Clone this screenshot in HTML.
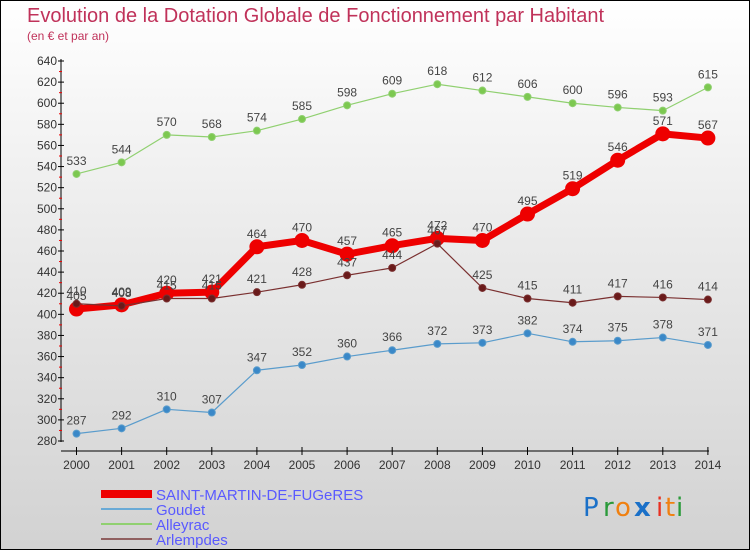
<!DOCTYPE html>
<html><head><meta charset="utf-8"><style>
body{margin:0;}
#c{position:relative;width:748px;height:548px;border:1px solid #000;background:linear-gradient(#fff 0%,#ececec 40%,#d2d2d2 100%);font-family:"Liberation Sans",sans-serif;overflow:hidden}
</style></head><body>
<div id="c">
<svg width="748" height="548" id="svg">
<text x="26" y="21" font-size="20" fill="#c0325a">Evolution de la Dotation Globale de Fonctionnement par Habitant</text>
<text x="26" y="39" font-size="12" fill="#c0325a">(en € et par an)</text>
<g id="axes"></g><g id="series"></g>
<g>
<rect x="100" y="489" width="51" height="8" fill="#e00"/>
<text x="155" y="499" font-size="15" fill="#5a5aff">SAINT-MARTIN-DE-FUGeRES</text>
<rect x="100" y="507" width="51" height="2" fill="#6aaad6"/>
<text x="155" y="514" font-size="15" fill="#5a5aff">Goudet</text>
<rect x="100" y="522" width="51" height="2" fill="#90d070"/>
<text x="155" y="529" font-size="15" fill="#5a5aff">Alleyrac</text>
<rect x="100" y="537" width="51" height="2" fill="#906060"/>
<text x="155" y="544" font-size="15" fill="#5a5aff">Arlempdes</text>
</g>
<g font-size="26" font-family="'DejaVu Sans',sans-serif">
<text x="582" y="515" fill="#1a70c8">P</text><text x="602" y="515" fill="#2a9a3a">r</text><text x="614" y="515" fill="#f08010">o</text><text x="633" y="515" fill="#1a70c8" font-weight="bold">x</text><text x="655" y="515" fill="#e83020">i</text><text x="664" y="515" fill="#f08010">t</text><text x="675" y="515" fill="#2a9a3a">i</text>
</g>
</svg>
</div>
<script>
const years=[2000,2001,2002,2003,2004,2005,2006,2007,2008,2009,2010,2011,2012,2013,2014];
const yTicks=[280,300,320,340,360,380,400,420,440,460,480,500,520,540,560,580,600,620,640];
const saintMartin=[405,409,420,421,464,470,457,465,472,470,495,519,546,571,567];
const goudet=[287,292,310,307,347,352,360,366,372,373,382,374,375,378,371];
const alleyrac=[533,544,570,568,574,585,598,609,618,612,606,600,596,593,615];
const arlempdes=[410,408,415,415,421,428,437,444,467,425,415,411,417,416,414];
const NS="http://www.w3.org/2000/svg";
function X(i){return 75.5+i*45.1;}
function Y(v){return 440-(v-280)*380/360;}
function mk(t,a,p){const e=document.createElementNS(NS,t);for(const k in a)e.setAttribute(k,a[k]);p.appendChild(e);return e;}
const ax=document.getElementById('axes');
const yl=mk('line',{x1:60,y1:58,x2:60,y2:441,stroke:'#000'},ax);


const xl=mk('line',{x1:60,y1:450,x2:708,y2:450,stroke:'#000'},ax);


yTicks.forEach((v,i)=>{
 mk('line',{x1:57,y1:Y(v),x2:63,y2:Y(v),stroke:'#000'},ax);
 if(i<yTicks.length-1)mk('line',{x1:58,y1:Y(v+10),x2:61,y2:Y(v+10),stroke:'#e00'},ax);
 const t=mk('text',{x:56,y:Y(v)+4,'font-size':12,'text-anchor':'end',fill:'#333'},ax);t.textContent=v;
 
 
});
years.forEach((y,i)=>{
 mk('line',{x1:X(i),y1:446,x2:X(i),y2:454,stroke:'#000'},ax);
 const t=mk('text',{x:X(i),y:468,'font-size':12,'text-anchor':'middle',fill:'#333'},ax);t.textContent=y;
 
 
});
const sg=document.getElementById('series');
function draw(name,data,color,w,r,dot){
 const g=mk('g',{},sg);
 
 
 const pl=mk('polyline',{points:data.map((v,i)=>X(i)+','+Y(v)).join(' '),fill:'none',stroke:color,'stroke-width':w,'stroke-linejoin':'round'},g);
 
 
 data.forEach((v,i)=>{
  const c=mk('circle',{cx:X(i),cy:Y(v),r:r,fill:dot,stroke:color,'stroke-width':1},g);
  
  
  const t=mk('text',{x:X(i),y:Y(v)-9,'font-size':12,'text-anchor':'middle',fill:'#444'},g);t.textContent=v;
  
  
 });
}
draw('goudet',goudet,'#5a9ccc',1.2,3.5,'#3a88c8');
draw('alleyrac',alleyrac,'#90d070',1.2,3.5,'#7cc850');
draw('saint-martin',saintMartin,'#ee0000',7,7,'#ee0000');
draw('arlempdes',arlempdes,'#7a3030',1.2,3.5,'#6a1a1a');
</script>
</body></html>
